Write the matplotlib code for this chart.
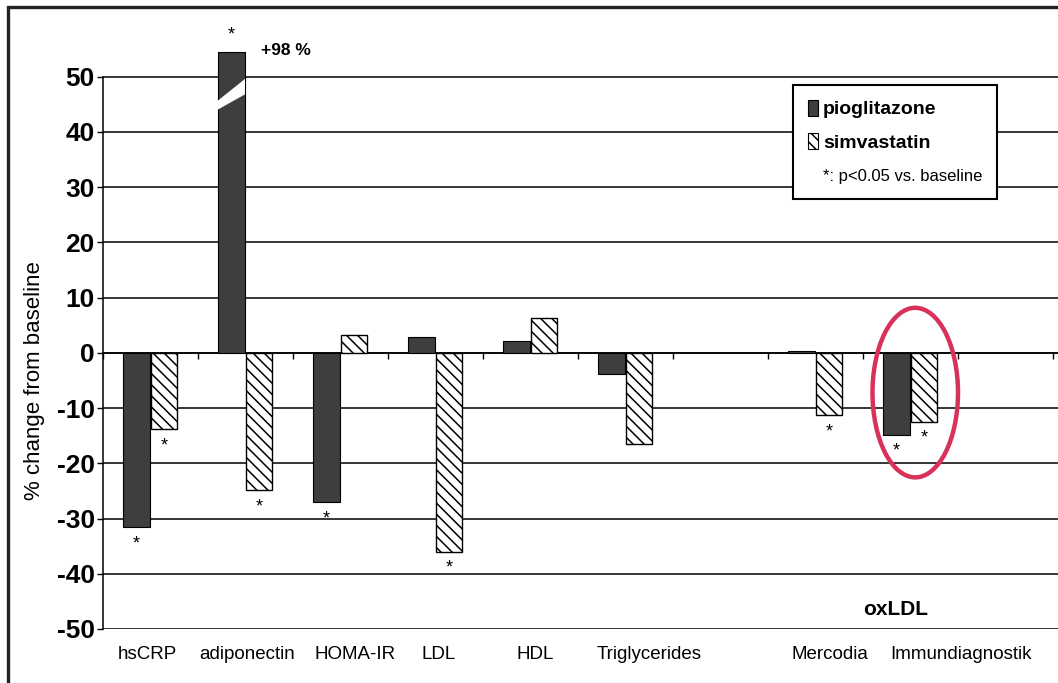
import numpy as np
import matplotlib
matplotlib.use('Agg')
import matplotlib.pyplot as plt
from matplotlib.patches import Patch, Polygon, Ellipse, Rectangle
from matplotlib.lines import Line2D

plt.rcParams['font.family'] = ['Liberation Sans', 'DejaVu Sans']
plt.rcParams['hatch.linewidth'] = 1.1

# data (% change from baseline)
categories = ['hsCRP', 'adiponectin', 'HOMA-IR', 'LDL', 'HDL', 'Triglycerides',
              'Mercodia', 'Immundiagnostik']
slots = [0, 1, 2, 3, 4, 5, 7, 8]          # slot 6 is left empty before the oxLDL group
pioglitazone = [-31.6, 98.0, -27.0, 2.8, 2.2, -3.8, 0.4, -14.8]
simvastatin = [-13.8, -24.9, 3.3, -36.0, 6.3, -16.5, -11.3, -12.5]
sig_pio = [True, True, True, False, False, False, False, True]
sig_sim = [True, True, False, True, False, False, True, True]
yticks = [-50, -40, -30, -20, -10, 0, 10, 20, 30, 40, 50]
axis_cap = 54.5   # bars taller than this are drawn broken

# label nudges (slot units), as placed in the original
label_shift = [-0.03, 0.02, 0.15, 0.03, 0.05, 0.25, 0.15, 0.53]

pio_color = '#3e3e3e'
W = 0.28

fig = plt.figure(figsize=(10.58, 6.83), dpi=100)
ax = fig.add_axes([103 / 1058, 54 / 683, 955 / 1058, 591 / 683])

x = np.array(slots, dtype=float)
pio_shown = [min(v, axis_cap) for v in pioglitazone]
ax.bar(x - 0.29, pio_shown, width=W, align='edge', color=pio_color,
       edgecolor='black', linewidth=0.8, zorder=3)
ax.bar(x, simvastatin, width=W, align='edge', color='white', hatch='\\\\\\',
       edgecolor='black', linewidth=1.0, zorder=3)

# break mark on bars that exceed the axis
for xi, v in zip(x, pioglitazone):
    if v > axis_cap:
        l, r = xi - 0.295, xi - 0.005
        ax.add_patch(Polygon([(l, 44.0), (r, 46.8), (r, 49.6), (l, 45.6)],
                             closed=True, facecolor='white', edgecolor='none', zorder=4))
        ax.text(xi + 0.16, 54.8, '+%d %%' % round(v), fontsize=12.5,
                va='center', ha='left', fontweight='bold', clip_on=False)

# significance asterisks
for xi, v, s in zip(x, pio_shown, sig_pio):
    if s:
        y = v + 3.0 if v > 0 else v - 3.0
        ax.text(xi - 0.15, y, '*', ha='center', va='center', fontsize=13, clip_on=False)
for xi, v, s in zip(x, simvastatin, sig_sim):
    if s:
        y = v + 3.0 if v > 0 else v - 3.0
        ax.text(xi + 0.14, y, '*', ha='center', va='center', fontsize=13, clip_on=False)

# axes styling
ax.set_xlim(-0.5, 9.5 + 5 / 95)
ax.set_ylim(-50, 57)
ax.set_yticks(yticks)
ax.set_yticklabels([str(t) for t in yticks], fontsize=19, fontweight='bold')
ax.tick_params(axis='y', length=4, width=1.0, pad=2)
ax.grid(axis='y', color='black', linewidth=1.1)
ax.set_axisbelow(True)
for s in ['top', 'right']:
    ax.spines[s].set_visible(False)
ax.spines['left'].set_bounds(-50, 50)
ax.spines['left'].set_linewidth(1.1)
ax.spines['bottom'].set_position(('data', 0))
ax.spines['bottom'].set_linewidth(1.1)
ax.set_xticks(np.arange(-0.5, 10, 1.0))
ax.set_xticklabels([])
ax.tick_params(axis='x', length=4, width=1.0, direction='out')

for xi, name, sh in zip(x, categories, label_shift):
    ax.text(xi + sh, -54.6, name, ha='center', va='center', fontsize=13.5, clip_on=False)
ax.text(7.84, -46.5, 'oxLDL', ha='center', va='center', fontsize=15, fontweight='bold')

ax.set_ylabel('% change from baseline', fontsize=16)
ax.yaxis.set_label_coords(-0.061, 0.42)

# legend
handles = [Patch(facecolor=pio_color, edgecolor='black', linewidth=0.8),
           Patch(facecolor='white', edgecolor='black', hatch='\\\\\\', linewidth=0.8),
           Line2D([], [], linestyle='none')]
leg = ax.legend(handles, ['pioglitazone', 'simvastatin', '*: p<0.05 vs. baseline'],
                loc='upper left', bbox_to_anchor=(0.7225, 0.9205), borderaxespad=0,
                prop={'size': 14, 'weight': 'bold'}, handlelength=0.55, handleheight=0.9,
                handletextpad=0.25, labelspacing=0.75, borderpad=0.75,
                fancybox=False, framealpha=1, edgecolor='black')
leg.get_frame().set_linewidth(1.5)
note = leg.get_texts()[2]
note.set_fontweight('normal')
note.set_fontsize(12)

# highlight around the Immundiagnostik pair
hl = slots[categories.index('Immundiagnostik')]
ax.add_patch(Ellipse((hl + 0.05, -7.2), 0.9, 30.7, fill=False, edgecolor='#d8325a',
                     linewidth=3.2, zorder=6, clip_on=False))

# scanned page frame
fig.patches.append(Rectangle((8 / 1058, -0.1), 1.2, 1.1 - 7 / 683, fill=False,
                             edgecolor='#222222', linewidth=2.4, transform=fig.transFigure))

fig.savefig('out.png', dpi=100)
